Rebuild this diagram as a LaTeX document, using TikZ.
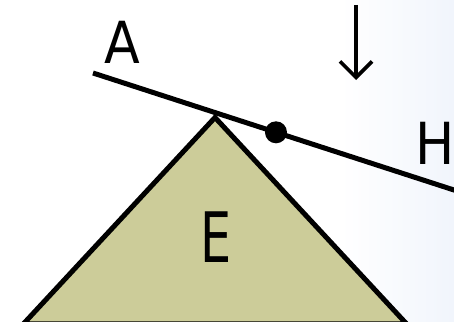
\documentclass[tikz,border=0pt]{standalone}
\usepackage{fontspec}
\setmainfont{DejaVu Sans}
\usetikzlibrary{arrows.meta}
\definecolor{khaki}{RGB}{204,204,153}
\definecolor{bgblue}{RGB}{241,245,252}
\tikzset{
  lbl/.style={inner sep=0pt, font=\fontsize{58}{58}\selectfont},
  thick line/.style={line width=5pt},
}
\begin{document}
\begin{tikzpicture}[x=1pt,y=-1pt]
\useasboundingbox (0,0) rectangle (454,321);
\clip (0,0) rectangle (454,321);
\fill[white] (0,0) rectangle (454,321);
\shade[left color=white,right color=bgblue] (340,0) rectangle (454,321);
% triangle
\coordinate (L) at (23.5,323.8);
\coordinate (T) at (215,117.5);
\coordinate (R) at (406.5,323.8);
\draw[thick line, fill=khaki, line join=miter] (L) -- (T) -- (R) -- cycle;
% line A--H
\coordinate (A) at (93,73);
\coordinate (H) at (470,195.2);
\draw[thick line] (A) -- (H);
\node[circle, fill=black, inner sep=0pt, minimum size=22pt] (dot) at (276,132.3) {};
% arrow
\coordinate (s) at (356,5);
\coordinate (e) at (356,80);
\draw[line width=3.6pt, -{Straight Barb[length=16pt,width=32pt]}] (s) -- (e);
% labels
\node[lbl, xscale=0.9] (la) at (122,42) {A};
\node[lbl, xscale=0.9] (lh) at (435,143) {H};
\node[lbl, yscale=1.2, xscale=0.85] (le) at (216,237) {E};
\end{tikzpicture}
\end{document}
